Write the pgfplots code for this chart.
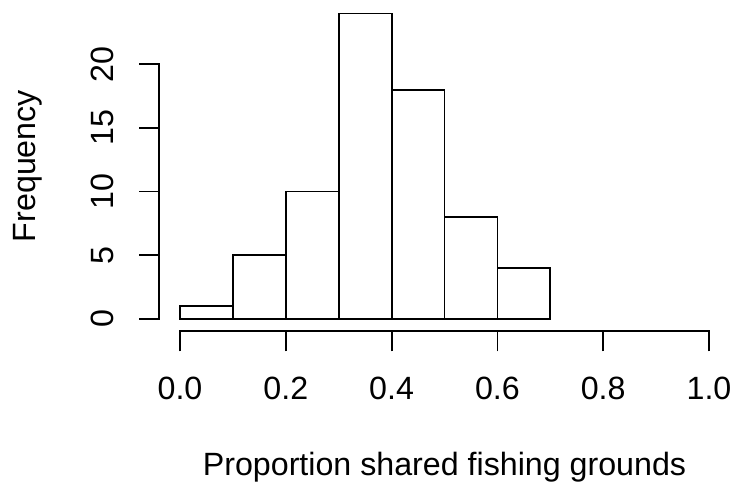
\documentclass[border=0pt]{standalone}
\usepackage{fontspec}
\setmainfont{Liberation Sans}
\usepackage{pgfplots}
\pgfplotsset{compat=1.18}

\newcommand{\plotfont}{\fontsize{32.2}{38}\selectfont}

\begin{document}
\plotfont
\begin{tikzpicture}
\useasboundingbox (0,0) rectangle (735pt,488pt);
\begin{axis}[
  at={(180pt,169.3pt)}, anchor=south west,
  scale only axis, width=529pt, height=254.4pt,
  xmin=0, xmax=1, ymin=0, ymax=20,
  clip=false,
  axis lines*=left,
  axis x line shift=12.6pt,
  axis y line shift=20.7pt,
  axis line style={line width=1.8pt, black, line cap=rect},
  every tick/.style={line width=1.8pt, black},
  tick align=outside,
  major tick length=20pt,
  xtick={0,0.2,0.4,0.6,0.8,1},
  xticklabels={0.0,0.2,0.4,0.6,0.8,1.0},
  ytick={0,5,10,15,20},
  yticklabels={0,5,10,15,20},
  xticklabel style={anchor=base, yshift=-48pt, font=\plotfont},
  yticklabel style={xshift=-26pt, rotate=90, anchor=base, font=\plotfont},
  xlabel={Proportion shared fishing grounds},
  ylabel={Frequency},
  xlabel style={at={(axis description cs:0.5,0)}, anchor=base, yshift=-156.3pt,
    font=\plotfont},
  ylabel style={at={(axis description cs:0,0.6)}, anchor=base, yshift=144pt,
    font=\plotfont},
]
\addplot[ybar interval, fill=white, draw=black, line width=1.8pt]
  coordinates {(0,1) (0.1,5) (0.2,10) (0.3,24) (0.4,18) (0.5,8) (0.6,4) (0.7,4)};
\end{axis}
\end{tikzpicture}
\end{document}
